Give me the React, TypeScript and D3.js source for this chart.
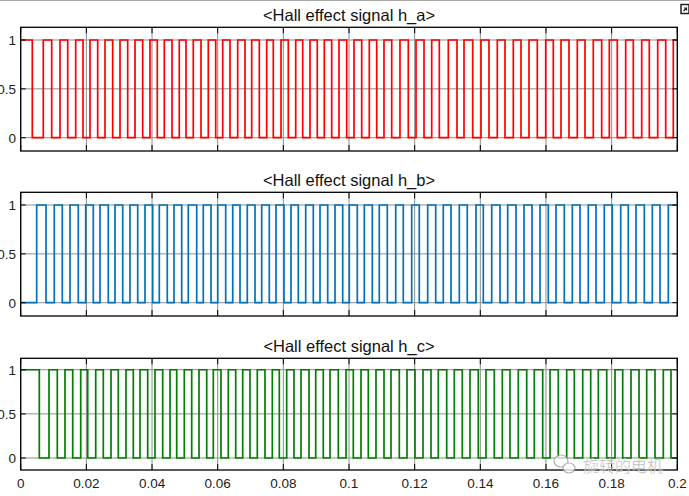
import * as d3 from 'd3';

// edge times in seconds (ms / 1000)
const xTicks = [0, 0.02, 0.04, 0.06, 0.08, 0.1, 0.12, 0.14, 0.16, 0.18, 0.2];
const yTicks = [0, 0.5, 1];

const haFall = [3.53, 9.44, 14.32, 18.98, 23.45, 28.02, 32.59, 37.16, 41.61, 46.09, 50.35, 54.92, 59.4, 63.75, 68.32, 72.68, 76.94, 81.51, 85.9, 90.34, 94.73, 99.3, 103.87, 108.44, 113.01, 118.06, 122.85, 127.51, 132.9, 137.68, 142.64, 147.52, 152.39, 157.36, 162.23, 167.01, 171.89, 176.97, 181.72, 186.6, 191.47, 196.47];
const haRise = [6.88, 11.97, 16.75, 21.11, 25.68, 30.25, 34.82, 39.38, 43.74, 48.31, 52.57, 57.14, 61.53, 66.1, 70.36, 74.93, 79.29, 83.77, 88.12, 92.48, 96.95, 101.52, 106.18, 110.66, 115.53, 120.41, 125.19, 130.25, 135.03, 140.21, 145.17, 150.05, 154.83, 159.92, 164.58, 169.54, 174.41, 179.29, 184.28, 189.16, 194.03, 198.78];

const hbRise = [4.87, 10.23, 15.02, 19.8, 24.15, 28.72, 33.29, 37.86, 42.22, 46.69, 51.05, 55.62, 60.01, 64.58, 69.02, 73.41, 77.76, 82.33, 86.81, 91.17, 95.74, 100.09, 104.66, 109.23, 114.23, 119.1, 123.97, 128.72, 133.6, 138.68, 143.47, 148.34, 153.31, 158.18, 163.05, 168.02, 172.89, 177.76, 182.76, 187.42, 192.39, 197.26];
const hbFall = [7.71, 12.67, 17.54, 22.11, 26.68, 31.07, 35.64, 40.21, 44.65, 49.04, 53.61, 57.97, 62.44, 66.8, 71.37, 75.72, 80.2, 84.56, 89.13, 93.51, 98.08, 102.53, 107.1, 111.67, 116.54, 121.41, 126.41, 131.07, 136.03, 140.91, 145.99, 150.87, 155.74, 160.71, 165.58, 170.36, 175.24, 180.2, 185.07, 189.95, 194.73];

const hcFall = [5.67, 11.15, 15.84, 20.41, 25.16, 29.73, 34.3, 38.68, 43.25, 47.52, 52.09, 56.66, 61.01, 65.49, 69.84, 74.41, 78.77, 83.25, 87.82, 92.17, 96.74, 101.31, 105.88, 110.66, 115.32, 120.1, 124.98, 129.76, 134.51, 139.38, 144.26, 149.04, 154.13, 159.0, 163.75, 168.63, 173.62, 178.5, 183.37, 188.34, 193.21, 198.08];
const hcRise = [8.62, 13.49, 18.28, 22.85, 27.51, 32.07, 36.34, 40.91, 45.48, 49.83, 54.31, 58.67, 63.23, 67.62, 72.07, 76.64, 81.02, 85.38, 89.86, 94.21, 99.09, 103.66, 108.22, 112.79, 117.67, 122.54, 127.2, 132.07, 136.86, 141.73, 146.7, 151.57, 156.44, 161.23, 166.31, 171.19, 175.94, 181.03, 185.9, 190.68, 195.74];

interface Pt { t: number; v: number }

const steps = (init: number, rise: number[], fall: number[]): Pt[] => {
  const edges = [
    ...rise.map(t => ({ t: t / 1000, v: 1 })),
    ...fall.map(t => ({ t: t / 1000, v: 0 })),
  ].sort((a, b) => a.t - b.t);
  const last = edges.length ? edges[edges.length - 1].v : init;
  return [{ t: 0, v: init }, ...edges, { t: 0.2, v: last }];
};

const panels = [
  { title: '<Hall effect signal h_a>', color: '#ff0000', data: steps(1, haRise, haFall), top: 27.3, bottom: 151, titleY: 20.5 },
  { title: '<Hall effect signal h_b>', color: '#0072bd', data: steps(0, hbRise, hbFall), top: 192.3, bottom: 316, titleY: 186 },
  { title: '<Hall effect signal h_c>', color: '#008000', data: steps(1, hcRise, hcFall), top: 358.3, bottom: 470, titleY: 351.5 },
];

const W = 689;
const H = 496;
const left = 20.7;
const right = 677.3;
const font = 'Liberation Sans, Arial, Helvetica, sans-serif';

const x = d3.scaleLinear().domain([0, 0.2]).range([left, right]);

const Panel = ({ p, last }: { p: typeof panels[number]; last: boolean }) => {
  const y = d3.scaleLinear().domain([-0.136, 1.13]).range([p.bottom, p.top]);
  const line = d3.line<Pt>().x(d => x(d.t)).y(d => y(d.v)).curve(d3.curveStepAfter);
  return (
    <g>
      <rect x={left} y={p.top} width={right - left} height={p.bottom - p.top} fill="#fff" />
      {xTicks.map(t => (
        <line key={'gx' + t} x1={x(t)} x2={x(t)} y1={p.top} y2={p.bottom} stroke="#8c8c8c" strokeWidth={1} />
      ))}
      {yTicks.map(t => (
        <line key={'gy' + t} x1={left} x2={right} y1={y(t)} y2={y(t)} stroke="#8c8c8c" strokeWidth={1} />
      ))}
      <path d={line(p.data) ?? ''} fill="none" stroke={p.color} strokeWidth={1.7} />
      {xTicks.map(t => (
        <g key={'tx' + t}>
          <line x1={x(t)} x2={x(t)} y1={p.top} y2={p.top + 6} stroke="#000" />
          <line x1={x(t)} x2={x(t)} y1={p.bottom} y2={p.bottom - 6} stroke="#000" />
        </g>
      ))}
      {yTicks.map(t => (
        <g key={'ty' + t}>
          <line x1={left} x2={left + 5} y1={y(t)} y2={y(t)} stroke="#000" />
          <line x1={right} x2={right - 5} y1={y(t)} y2={y(t)} stroke="#000" />
          <text x={16} y={y(t) + 4.8} textAnchor="end" fontSize={13.5} fontFamily={font} fill="#222">
            {String(t)}
          </text>
        </g>
      ))}
      <rect x={left} y={p.top} width={right - left} height={p.bottom - p.top} fill="none" stroke="#000" strokeWidth={1.3} />
      <text x={(left + right) / 2} y={p.titleY} textAnchor="middle" fontSize={16.5} fontFamily={font} fill="#111">
        {p.title}
      </text>
      {last && xTicks.map(t => (
        <text key={'lx' + t} x={x(t)} y={488} textAnchor="middle" fontSize={13.5} fontFamily={font} fill="#222">
          {String(t)}
        </text>
      ))}
    </g>
  );
};

export default function App() {
  return (
    <svg width={W} height={H} style={{ position: 'absolute', left: 0, top: 0, background: '#fff' }}>
      <rect width={W} height={H} fill="#fff" />
      <line x1={0} x2={W} y1={0.5} y2={0.5} stroke="#aaa" />
      <g>
        <rect x={681} y={4.5} width={8} height={9} fill="#fff" stroke="#222" strokeWidth={1.5} />
        <path d="M683.5,11 L686.5,8 M684,8 L686.5,8 L686.5,10.5" stroke="#222" fill="none" strokeWidth={1.2} />
      </g>
      {panels.map((p, i) => (
        <Panel key={p.title} p={p} last={i === panels.length - 1} />
      ))}
      <g opacity={0.75}>
        <ellipse cx={561} cy={461} rx={7} ry={6} fill="#fff" stroke="#999" strokeWidth={1.2} />
        <ellipse cx={569} cy={468} rx={6} ry={5} fill="#fff" stroke="#999" strokeWidth={1.2} />
        <text x={583} y={472} fontSize={16} fontFamily="Noto Sans CJK SC" fill="#9a9a9a" stroke="#fff" strokeWidth={0.4}>
          旋转的电机
        </text>
      </g>
    </svg>
  );
}
